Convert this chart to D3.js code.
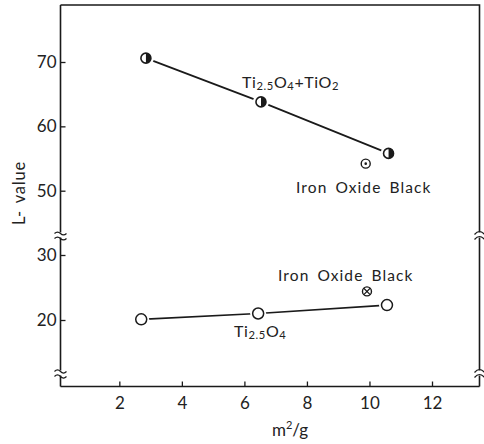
<!DOCTYPE html>
<html>
<head>
<meta charset="utf-8">
<script src="https://cdn.jsdelivr.net/npm/d3@7"></script>
<style>
  html, body { margin: 0; padding: 0; background: #fff; }
  svg text { font-family: "Lato", "DejaVu Sans", sans-serif; fill: #222; }
</style>
</head>
<body>
<svg id="chart" width="484" height="444"></svg>
<script>
// Specific surface area (m²/g) vs. L-value
const xTicks = [2, 4, 6, 8, 10, 12];
const yTicksUpper = [50, 60, 70];
const yTicksLower = [20, 30];

// Ti2.5O4 + TiO2 (half-filled markers)
const mixArea = [2.85, 6.53, 10.61];
const mixL = [70.6, 63.8, 55.8];

// Ti2.5O4 (open markers)
const tiArea = [2.7, 6.44, 10.56];
const tiL = [20.1, 21.0, 22.3];

// Iron oxide black reference points
const ironUpper = { area: 9.88, L: 54.2 };
const ironLower = { area: 9.92, L: 24.4 };

const svg = d3.select("#chart");
const frameL = 60.5, frameR = 479.5, frameT = 5, frameB = 386.5;

const x = d3.scaleLinear().domain([0, 12]).range([56.8, 432]);
// Broken y axis: two segments sharing the same slope
const yU = d3.scaleLinear().domain([50, 70]).range([190.7, 62]);
const yL = d3.scaleLinear().domain([20, 30]).range([320, 255]);

const ink = "#1a1a1a";

// frame (top & right sides)
svg.append("path")
  .attr("d", `M${frameL},${frameT} H${frameR} V${frameB}`)
  .attr("fill", "none").attr("stroke", ink).attr("stroke-width", 1.6);

// x axis
const gx = svg.append("g").attr("transform", `translate(0,${frameB})`)
  .call(d3.axisTop(x).tickValues(xTicks).tickSize(5).tickFormat(d3.format("d")));
gx.select(".domain").attr("d", `M${frameL},0H${frameR}`).attr("stroke", ink).attr("stroke-width", 1.6);
gx.selectAll(".tick line").attr("stroke", ink).attr("stroke-width", 1.3);
gx.selectAll(".tick text").attr("y", 22).attr("dy", 0)
  .attr("font-size", 17).style("font-family", '"Lato", sans-serif').attr("fill", "#222");

// y axis (upper & lower segments)
function yAxis(scale, ticks) {
  const g = svg.append("g").attr("transform", `translate(${frameL},0)`)
    .call(d3.axisRight(scale).tickValues(ticks).tickSize(5).tickFormat(d3.format("d")));
  g.select(".domain").remove();
  g.selectAll(".tick line").attr("stroke", ink).attr("stroke-width", 1.3);
  g.selectAll(".tick text").attr("x", -4).attr("text-anchor", "end")
    .attr("font-size", 17).style("font-family", '"Lato", sans-serif').attr("fill", "#222");
  return g;
}
yAxis(yU, yTicksUpper);
yAxis(yL, yTicksLower);
svg.append("line").attr("x1", frameL).attr("x2", frameL).attr("y1", frameT).attr("y2", frameB)
  .attr("stroke", ink).attr("stroke-width", 1.6);

// axis break marks
function breakLeft(cx, cy) {
  const g = svg.append("g");
  g.append("rect").attr("x", cx - 3).attr("y", cy - 2.5).attr("width", 6).attr("height", 5).attr("fill", "#fff");
  [-2.5, 2.5].forEach(dy => {
    g.append("path")
      .attr("d", `M${cx - 6},${cy + dy + 1} q3,-3 6,0 t6,0`)
      .attr("fill", "none").attr("stroke", ink).attr("stroke-width", 1.2);
  });
}
function breakRight(cx, cy) {
  const g = svg.append("g");
  g.append("rect").attr("x", cx - 3).attr("y", cy - 2.5).attr("width", 6).attr("height", 5).attr("fill", "#fff");
  [-2.5, 2.5].forEach(dy => {
    g.append("path")
      .attr("d", `M${cx - 5},${cy + dy + 2} Q${cx},${cy + dy - 4} ${cx + 5},${cy + dy + 2}`)
      .attr("fill", "none").attr("stroke", ink).attr("stroke-width", 1.2);
  });
}
breakLeft(frameL, 235);
breakLeft(frameL, 373);
breakRight(frameR, 235);
breakRight(frameR, 373);

// connecting lines
const lineU = d3.line().x(d => x(d[0])).y(d => yU(d[1]));
const lineL = d3.line().x(d => x(d[0])).y(d => yL(d[1]));
svg.append("path").attr("d", lineU(d3.zip(mixArea, mixL)))
  .attr("fill", "none").attr("stroke", ink).attr("stroke-width", 1.7);
svg.append("path").attr("d", lineL(d3.zip(tiArea, tiL)))
  .attr("fill", "none").attr("stroke", ink).attr("stroke-width", 1.7);

const r = 5;
// half-filled markers (right half black)
d3.zip(mixArea, mixL).forEach(([a, v]) => {
  const cx = x(a), cy = yU(v);
  svg.append("circle").attr("cx", cx).attr("cy", cy).attr("r", r + 3).attr("fill", "#fff");
  svg.append("circle").attr("cx", cx).attr("cy", cy).attr("r", r).attr("fill", "#fff")
    .attr("stroke", ink).attr("stroke-width", 1.6);
  svg.append("path")
    .attr("d", `M${cx},${cy - r} A${r},${r} 0 0 1 ${cx},${cy + r} Z`)
    .attr("fill", ink);
});

// open markers
d3.zip(tiArea, tiL).forEach(([a, v]) => {
  const cx = x(a), cy = yL(v);
  svg.append("circle").attr("cx", cx).attr("cy", cy).attr("r", r + 3).attr("fill", "#fff");
  svg.append("circle").attr("cx", cx).attr("cy", cy).attr("r", r + 0.5).attr("fill", "#fff")
    .attr("stroke", ink).attr("stroke-width", 1.5);
});

// iron oxide black, dotted marker
{
  const cx = x(ironUpper.area), cy = yU(ironUpper.L);
  svg.append("circle").attr("cx", cx).attr("cy", cy).attr("r", 4.5).attr("fill", "#fff")
    .attr("stroke", ink).attr("stroke-width", 1.4);
  svg.append("circle").attr("cx", cx).attr("cy", cy).attr("r", 1.3).attr("fill", ink);
}
// iron oxide black, crossed marker
{
  const cx = x(ironLower.area), cy = yL(ironLower.L), rr = 4.5, k = rr * 0.7;
  svg.append("circle").attr("cx", cx).attr("cy", cy).attr("r", rr).attr("fill", "#fff")
    .attr("stroke", ink).attr("stroke-width", 1.4);
  svg.append("path").attr("d", `M${cx - k},${cy - k}L${cx + k},${cy + k}M${cx + k},${cy - k}L${cx - k},${cy + k}`)
    .attr("stroke", ink).attr("stroke-width", 1.2);
}

// chemical formula labels: [text, shift] where shift 1 = subscript, -1 = back to baseline
function formula(tx, ty, parts, size) {
  const t = svg.append("text").attr("x", tx).attr("y", ty).attr("font-size", size)
    .attr("letter-spacing", 0.6);
  parts.forEach(([s, sub]) => {
    t.append("tspan").text(s)
      .attr("font-size", sub === 1 ? size * 0.7 : size)
      .attr("dy", sub === 1 ? 2 : sub === -1 ? -2 : 0);
  });
  return t;
}
formula(242, 88, [["Ti", 0], ["2.5", 1], ["O", -1], ["4", 1], ["+TiO", -1], ["2", 1]], 16);
formula(234, 337, [["Ti", 0], ["2.5", 1], ["O", -1], ["4", 1]], 16);

svg.append("text").attr("x", 296).attr("y", 193).attr("font-size", 15.5)
  .attr("letter-spacing", 1.1).attr("word-spacing", 3).text("Iron Oxide Black");
svg.append("text").attr("x", 278).attr("y", 281).attr("font-size", 15.5)
  .attr("letter-spacing", 1.1).attr("word-spacing", 3).text("Iron Oxide Black");

// axis titles
svg.append("text").attr("transform", "translate(25,193) rotate(-90)")
  .attr("text-anchor", "middle").attr("font-size", 16.5).attr("letter-spacing", 0.8)
  .attr("word-spacing", 2).text("L- value");
const xt = svg.append("text").attr("x", 290).attr("y", 436).attr("text-anchor", "middle").attr("font-size", 17);
xt.append("tspan").text("m");
xt.append("tspan").text("2").attr("font-size", 11).attr("dy", -7);
xt.append("tspan").text("/g").attr("dy", 7);
</script>
</body>
</html>
